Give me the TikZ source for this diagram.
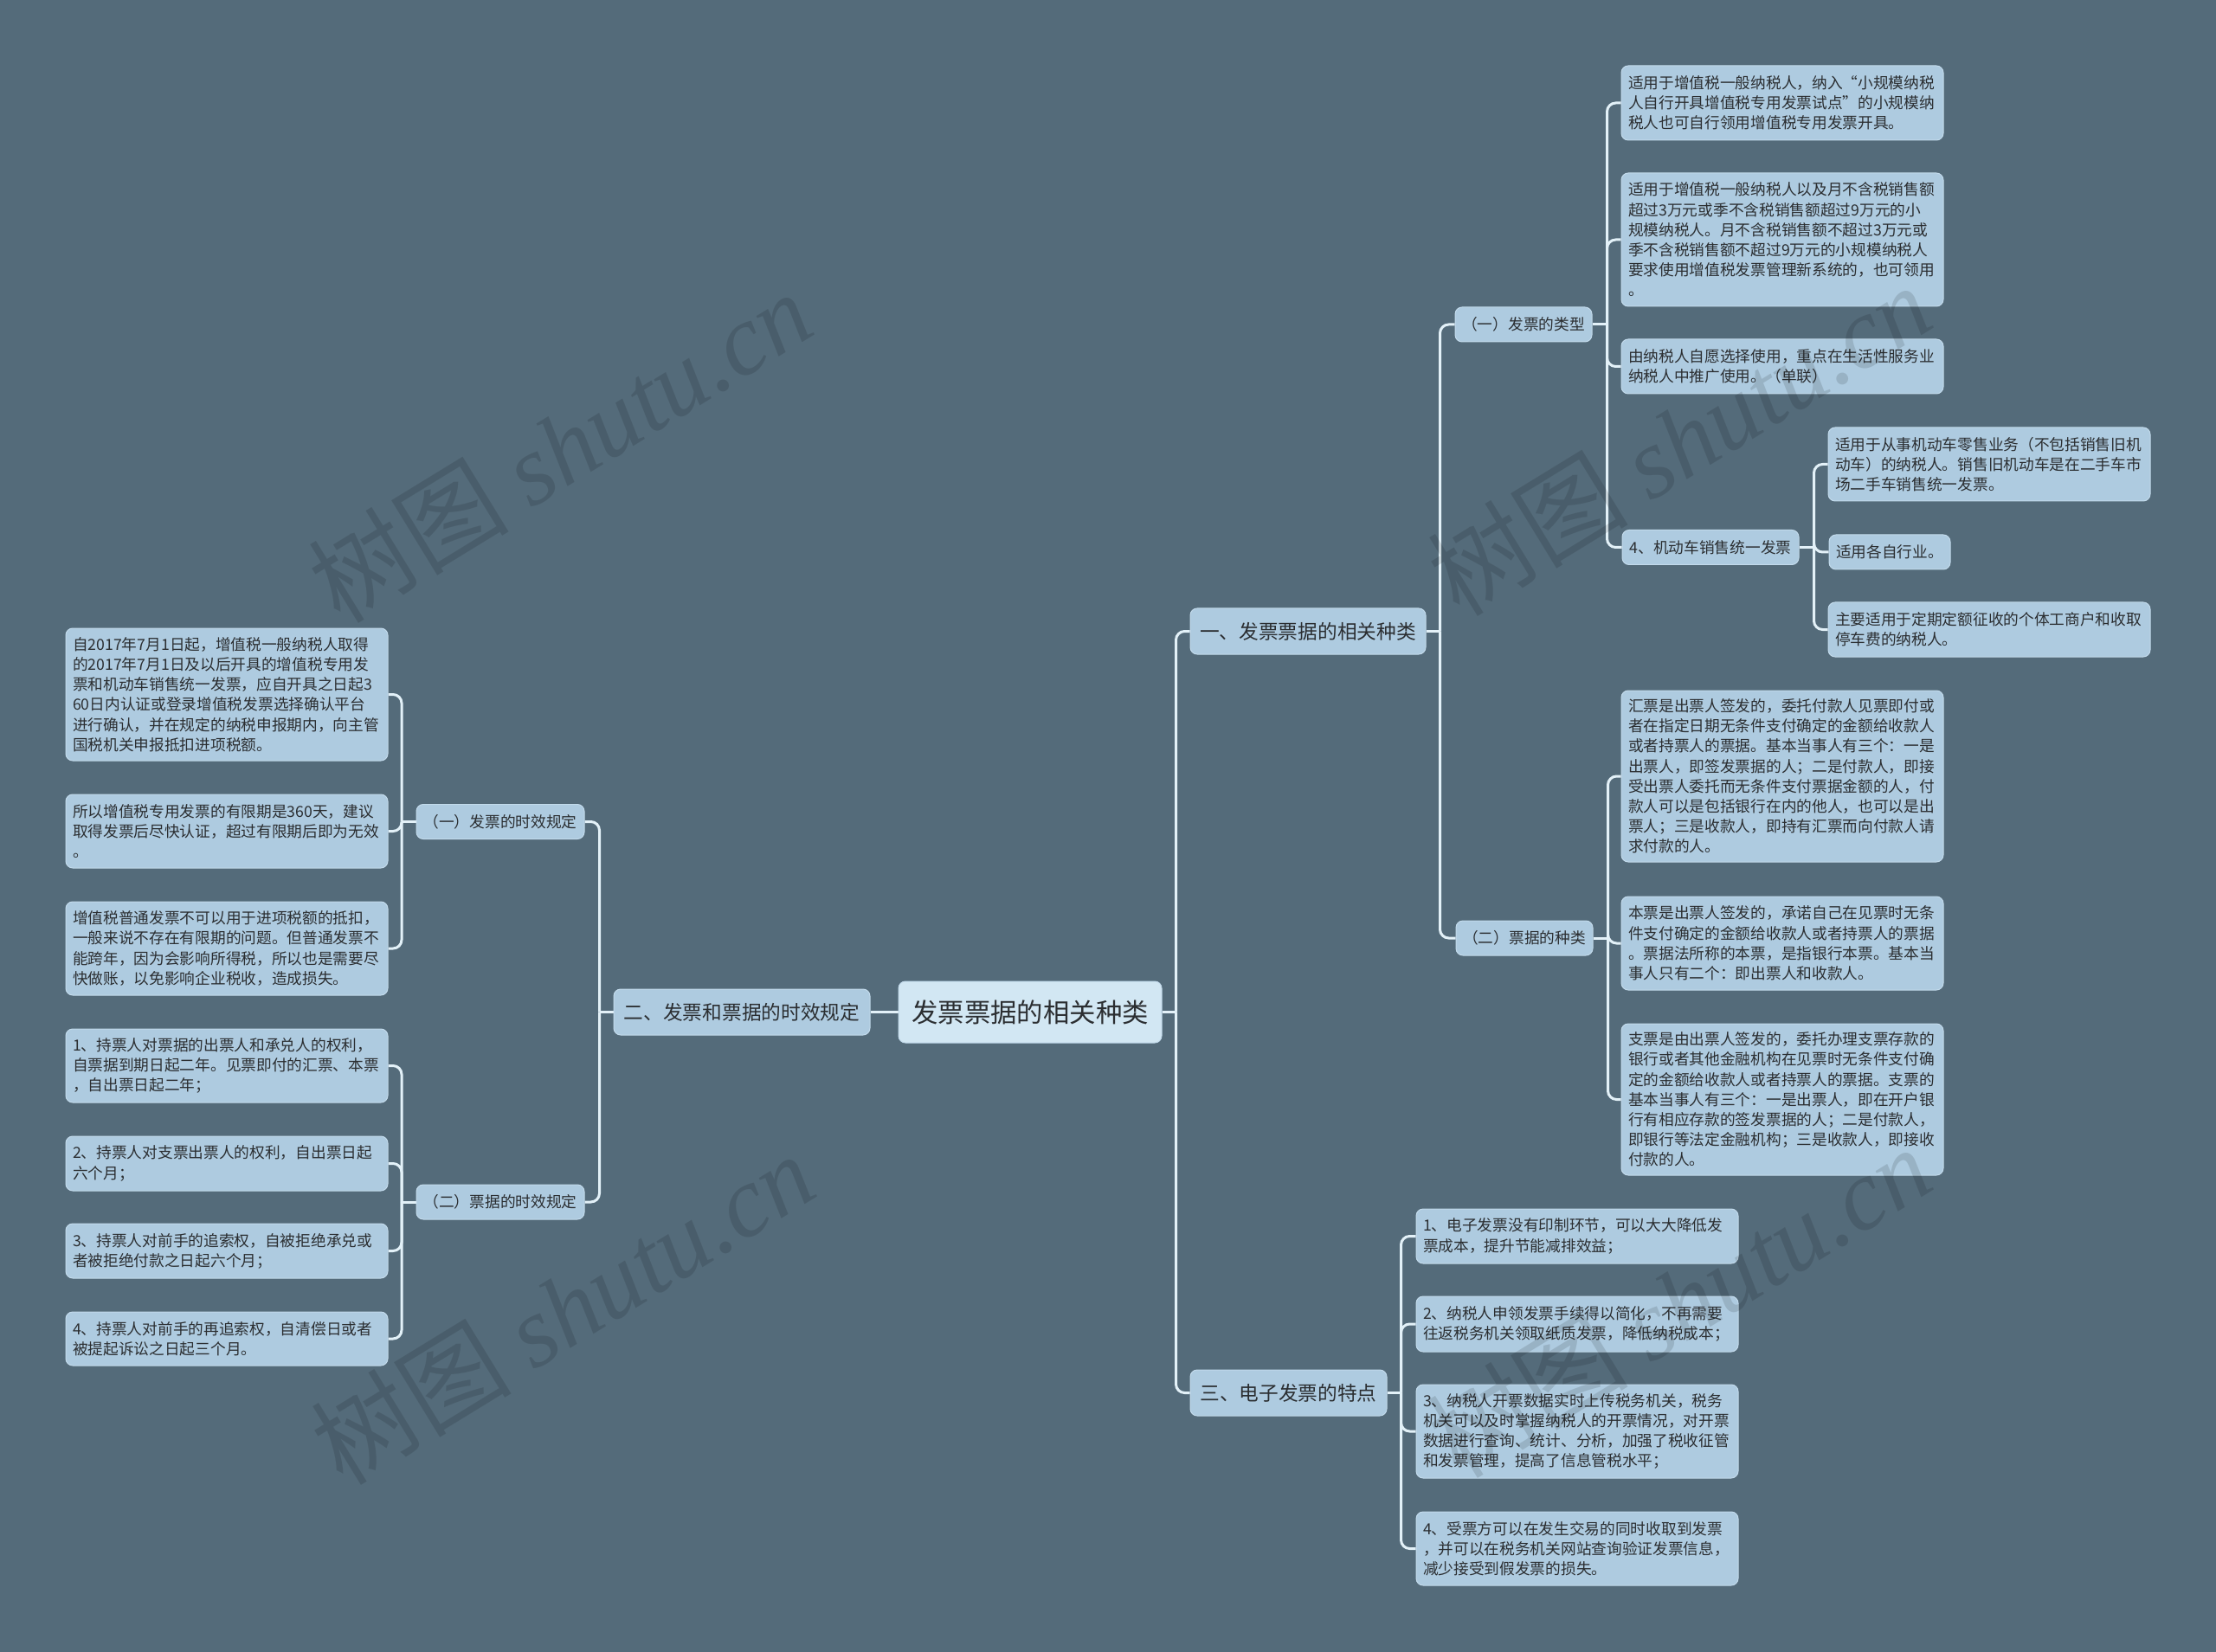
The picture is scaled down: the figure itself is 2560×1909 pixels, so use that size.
\documentclass[tikz,border=0pt]{standalone}
\usepackage{fontspec}
\newfontfamily\cjk{Noto Sans CJK SC}
\newfontfamily\wmlatin{Liberation Serif}
\usetikzlibrary{calc}
\definecolor{bgc}{HTML}{546B7A}
\definecolor{nodefill}{HTML}{AECBE0}
\definecolor{rootfill}{HTML}{D2E7F3}
\definecolor{nodeedge}{HTML}{C2DAEB}
\definecolor{linec}{HTML}{E3F1F8}
\definecolor{txt}{HTML}{2B2E31}
\pgfdeclarelayer{bgl}
\pgfdeclarelayer{lines}
\pgfsetlayers{bgl,lines,main}
\tikzset{
  nbox/.style={rounded corners=4pt, fill=nodefill, draw=nodeedge, line width=0.5pt, text=txt, inner sep=0pt},
  leaf/.style={nbox, text width=178pt, inner xsep=4pt, align=left, font=\cjk\fontsize{8.85}{11.6}\selectfont},
  subnode/.style={nbox, align=center, font=\cjk\fontsize{8.85}{11.6}\selectfont, minimum height=20pt},
  mainbr/.style={nbox, align=center, font=\cjk\fontsize{11.35}{14}\selectfont, minimum height=26.5pt},
  rootnode/.style={nbox, fill=rootfill, align=center, font=\cjk\fontsize{15.2}{18}\selectfont, minimum height=35.5pt, minimum width=152pt},
  conn/.style={draw=linec, line width=1.5pt, rounded corners=5pt},
  wm/.style={text=black, text opacity=0.12, font=\cjk\fontsize{58}{60}\selectfont, inner sep=0pt},
}
\begin{document}
\begin{tikzpicture}[x=0.5pt,y=-0.5pt]
\begin{pgfonlayer}{bgl}
\fill[bgc] (0,0) rectangle (2560,1909);
\end{pgfonlayer}
\useasboundingbox (0,0) rectangle (2560,1909);

% root and main branches
\node[rootnode] (root) at (1190,1169.5) {发票票据的相关种类};
\node[mainbr, minimum width=136pt] (B1) at (1511,729.5) {一、发票票据的相关种类};
\node[mainbr, minimum width=148pt] (B2) at (857,1169.5) {二、发票和票据的时效规定};
\node[mainbr, minimum width=113.5pt] (B3) at (1488.5,1609.5) {三、电子发票的特点};

% sub nodes
\node[subnode, minimum width=79pt] (S1) at (1760,375) {（一）发票的类型};
\node[subnode, minimum width=79pt] (S2) at (1761,1084) {（二）票据的种类};
\node[subnode, minimum width=97pt] (L1) at (578,949.5) {（一）发票的时效规定};
\node[subnode, minimum width=97pt] (L2) at (578,1389) {（二）票据的时效规定};
\node[subnode, minimum width=102pt] (M4) at (1976,632.5) {4、机动车销售统一发票};

% leaves of S1
\node[leaf, minimum height=43pt] (R1) at (2059,119) {适用于增值税一般纳税人，纳入“小规模纳税\\人自行开具增值税专用发票试点”的小规模纳\\税人也可自行领用增值税专用发票开具。};
\node[leaf, minimum height=77pt] (R2) at (2059,277) {适用于增值税一般纳税人以及月不含税销售额\\超过3万元或季不含税销售额超过9万元的小\\规模纳税人。月不含税销售额不超过3万元或\\季不含税销售额不超过9万元的小规模纳税人\\要求使用增值税发票管理新系统的，也可领用\\。};
\node[leaf, minimum height=31.5pt] (R3) at (2059,423.5) {由纳税人自愿选择使用，重点在生活性服务业\\纳税人中推广使用。（单联）};

% leaves of M4
\node[leaf, minimum height=42.5pt] (A1) at (2298,536.5) {适用于从事机动车零售业务（不包括销售旧机\\动车）的纳税人。销售旧机动车是在二手车市\\场二手车销售统一发票。};
\node[subnode, minimum width=70pt] (A2) at (2183,638) {适用各自行业。};
\node[leaf, minimum height=31.5pt] (A3) at (2298,727.5) {主要适用于定期定额征收的个体工商户和收取\\停车费的纳税人。};

% leaves of S2
\node[leaf, minimum height=99pt] (H1) at (2059,897) {汇票是出票人签发的，委托付款人见票即付或\\者在指定日期无条件支付确定的金额给收款人\\或者持票人的票据。基本当事人有三个：一是\\出票人，即签发票据的人；二是付款人，即接\\受出票人委托而无条件支付票据金额的人，付\\款人可以是包括银行在内的他人，也可以是出\\票人；三是收款人，即持有汇票而向付款人请\\求付款的人。};
\node[leaf, minimum height=54pt] (H2) at (2059,1090) {本票是出票人签发的，承诺自己在见票时无条\\件支付确定的金额给收款人或者持票人的票据\\。票据法所称的本票，是指银行本票。基本当\\事人只有二个：即出票人和收款人。};
\node[leaf, minimum height=87.5pt] (H3) at (2059,1270.5) {支票是由出票人签发的，委托办理支票存款的\\银行或者其他金融机构在见票时无条件支付确\\定的金额给收款人或者持票人的票据。支票的\\基本当事人有三个：一是出票人，即在开户银\\行有相应存款的签发票据的人；二是付款人，\\即银行等法定金融机构；三是收款人，即接收\\付款的人。};

% leaves of B3
\node[leaf, minimum height=31.5pt] (E1) at (1822,1428.5) {1、电子发票没有印制环节，可以大大降低发\\票成本，提升节能减排效益；};
\node[leaf, minimum height=32pt] (E2) at (1822,1530) {2、纳税人申领发票手续得以简化，不再需要\\往返税务机关领取纸质发票，降低纳税成本；};
\node[leaf, minimum height=54pt] (E3) at (1822,1654) {3、纳税人开票数据实时上传税务机关，税务\\机关可以及时掌握纳税人的开票情况，对开票\\数据进行查询、统计、分析，加强了税收征管\\和发票管理，提高了信息管税水平；};
\node[leaf, minimum height=42.5pt] (E4) at (1822,1789.5) {4、受票方可以在发生交易的同时收取到发票\\，并可以在税务机关网站查询验证发票信息，\\减少接受到假发票的损失。};

% leaves of L1
\node[leaf, minimum height=76.5pt] (T1) at (262,802.5) {自2017年7月1日起，增值税一般纳税人取得\\的2017年7月1日及以后开具的增值税专用发\\票和机动车销售统一发票，应自开具之日起3\\60日内认证或登录增值税发票选择确认平台\\进行确认，并在规定的纳税申报期内，向主管\\国税机关申报抵扣进项税额。};
\node[leaf, minimum height=42.5pt] (T2) at (262,960.5) {所以增值税专用发票的有限期是360天，建议\\取得发票后尽快认证，超过有限期后即为无效\\。};
\node[leaf, minimum height=54pt] (T3) at (262,1096) {增值税普通发票不可以用于进项税额的抵扣，\\一般来说不存在有限期的问题。但普通发票不\\能跨年，因为会影响所得税，所以也是需要尽\\快做账，以免影响企业税收，造成损失。};

% leaves of L2
\node[leaf, minimum height=42.5pt] (P1) at (262,1231.5) {1、持票人对票据的出票人和承兑人的权利，\\自票据到期日起二年。见票即付的汇票、本票\\，自出票日起二年；};
\node[leaf, minimum height=31.5pt] (P2) at (262,1344.5) {2、持票人对支票出票人的权利，自出票日起\\六个月；};
\node[leaf, minimum height=31.5pt] (P3) at (262,1445.5) {3、持票人对前手的追索权，自被拒绝承兑或\\者被拒绝付款之日起六个月；};
\node[leaf, minimum height=31pt] (P4) at (262,1547) {4、持票人对前手的再追索权，自清偿日或者\\被提起诉讼之日起三个月。};

% connectors
\begin{pgfonlayer}{lines}
\draw[conn] (root.west) -- (B2.east);
\coordinate (jR) at ($(root.east)+(16,0)$);
\draw[conn] (root.east) -- (jR);
\foreach \c in {B1,B3} \draw[conn] (jR) |- (\c.west);

\coordinate (jB2) at ($(B2.west)+(-16,0)$);
\draw[conn] (B2.west) -- (jB2);
\foreach \c in {L1,L2} \draw[conn] (jB2) |- (\c.east);

\coordinate (jL1) at ($(L1.west)+(-16.5,0)$);
\draw[conn] (L1.west) -- (jL1);
\foreach \c in {T1,T2,T3} \draw[conn] (jL1) |- (\c.east);

\coordinate (jL2) at ($(L2.west)+(-16.5,0)$);
\draw[conn] (L2.west) -- (jL2);
\foreach \c in {P1,P2,P3,P4} \draw[conn] (jL2) |- (\c.east);

\coordinate (jB1) at ($(B1.east)+(16,0)$);
\draw[conn] (B1.east) -- (jB1);
\foreach \c in {S1,S2} \draw[conn] (jB1) |- (\c.west);

\coordinate (jS1) at ($(S1.east)+(17,0)$);
\draw[conn] (S1.east) -- (jS1);
\foreach \c in {R1,R2,R3,M4} \draw[conn] (jS1) |- (\c.west);

\coordinate (jS2) at ($(S2.east)+(17,0)$);
\draw[conn] (S2.east) -- (jS2);
\foreach \c in {H1,H2,H3} \draw[conn] (jS2) |- (\c.west);

\coordinate (jM4) at ($(M4.east)+(17,0)$);
\draw[conn] (M4.east) -- (jM4);
\foreach \c in {A1,A2,A3} \draw[conn] (jM4) |- (\c.west);

\coordinate (jB3) at ($(B3.east)+(16,0)$);
\draw[conn] (B3.east) -- (jB3);
\foreach \c in {E1,E2,E3,E4} \draw[conn] (jB3) |- (\c.west);
\end{pgfonlayer}

% watermarks
\node[wm, rotate=31.5] (w1) at (647,516) {树图 {\wmlatin\itshape shutu.cn}};
\node[wm, rotate=31.5] (w2) at (650,1512) {树图 {\wmlatin\itshape shutu.cn}};
\node[wm, rotate=31.5] (w3) at (1940,508) {树图 {\wmlatin\itshape shutu.cn}};
\node[wm, rotate=31.5] (w4) at (1940,1504) {树图 {\wmlatin\itshape shutu.cn}};
\end{tikzpicture}
\end{document}
